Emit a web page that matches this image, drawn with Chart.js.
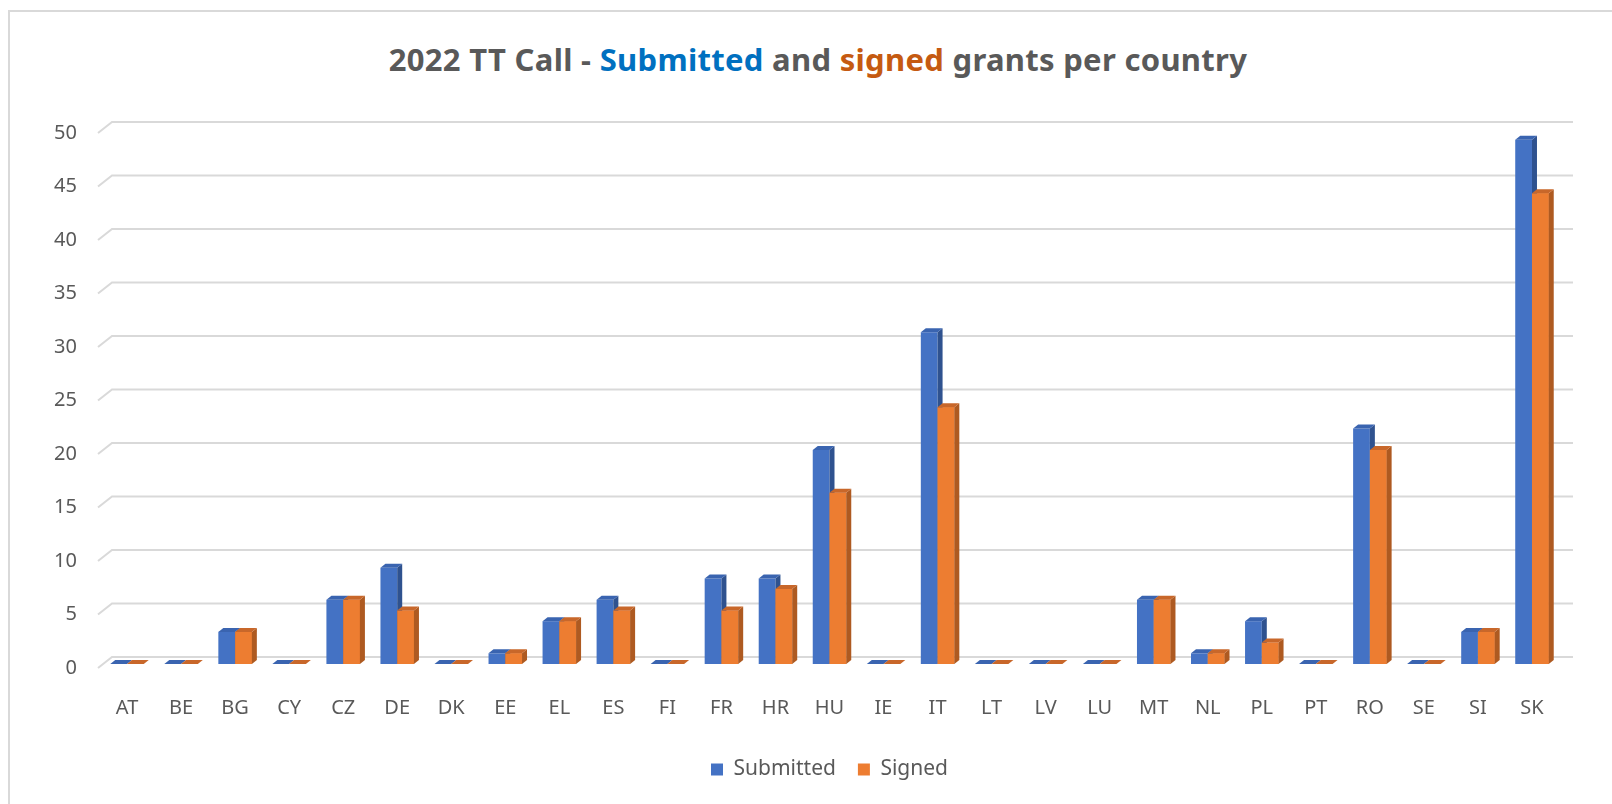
<!DOCTYPE html>
<html>
<head>
<meta charset="utf-8">
<script src="https://cdn.jsdelivr.net/npm/chart.js@4"></script>
<style>
  html, body { margin: 0; padding: 0; background: #fff; }
  #wrap { position: relative; width: 1612px; height: 804px; overflow: hidden; }
  #frame { position: absolute; left: 8px; top: 10px; width: 1700px; height: 900px;
           border-left: 2px solid #d9d9d9; border-top: 2px solid #d9d9d9; }
  #titulo { position: absolute; left: 0; width: 1636px; top: 39px; text-align: center;
            font-family: "Noto Sans", sans-serif; font-weight: bold; font-size: 31px;
            letter-spacing: 0.3px; color: #595959; line-height: 40px; white-space: nowrap; }
  #titulo .azul { color: #0070c0; }
  #titulo .naranja { color: #c55a11; }
  canvas { position: absolute; left: 0; top: 0; }
</style>
</head>
<body>
<div id="wrap">
  <div id="frame"></div>
  <div id="titulo">2022 TT Call - <span class="azul">Submitted</span> and <span class="naranja">signed</span> grants per country</div>
  <canvas id="grafico" width="1612" height="804"></canvas>
</div>
<script>
// Datos
const paises = ["AT", "BE", "BG", "CY", "CZ", "DE", "DK", "EE", "EL", "ES", "FI", "FR", "HR", "HU",
                "IE", "IT", "LT", "LV", "LU", "MT", "NL", "PL", "PT", "RO", "SE", "SI", "SK"];
const presentadas = [0, 0, 3, 0, 6, 9, 0, 1, 4, 6, 0, 8, 8, 20, 0, 31, 0, 0, 0, 6, 1, 4, 0, 22, 0, 3, 49];
const firmadas    = [0, 0, 3, 0, 6, 5, 0, 1, 4, 5, 0, 5, 7, 16, 0, 24, 0, 0, 0, 6, 1, 2, 0, 20, 0, 3, 44];
const ticksY = [0, 5, 10, 15, 20, 25, 30, 35, 40, 45, 50];

const gris = '#595959';
const fuente = '"Noto Sans", sans-serif';

// Caras laterales y superiores para imitar el efecto 3D
const caras = [
    { lado: '#2f528f', arriba: '#3a64b0' },
    { lado: '#ae5a21', arriba: '#c8672a' }
];
const PROF_X = 5, PROF_Y = 4;

// Lineas de fondo (pared trasera) desplazadas respecto al frente
const GRID_DX = 14, GRID_DY = 7, GRID_SLANT = 11;

function dibujarCaras(ctx, meta, c) {
    meta.data.forEach(bar => {
        const x0 = bar.x - bar.width / 2;
        const x1 = bar.x + bar.width / 2;
        const top = Math.min(bar.y, bar.base);
        const base = Math.max(bar.y, bar.base);
        // lado derecho
        ctx.fillStyle = c.lado;
        ctx.beginPath();
        ctx.moveTo(x1, base);
        ctx.lineTo(x1, top);
        ctx.lineTo(x1 + PROF_X, top - PROF_Y);
        ctx.lineTo(x1 + PROF_X, base - PROF_Y);
        ctx.closePath();
        ctx.fill();
        // cara superior
        ctx.fillStyle = c.arriba;
        ctx.beginPath();
        ctx.moveTo(x0, top);
        ctx.lineTo(x1, top);
        ctx.lineTo(x1 + PROF_X, top - PROF_Y);
        ctx.lineTo(x0 + PROF_X, top - PROF_Y);
        ctx.closePath();
        ctx.fill();
    });
}

const efecto3D = {
    id: 'efecto3D',
    beforeDatasetsDraw(chart) {
        const ctx = chart.ctx;
        const y = chart.scales.y;
        const area = chart.chartArea;
        ctx.save();
        ctx.strokeStyle = '#d9d9d9';
        ctx.lineWidth = 2;
        ticksY.forEach(v => {
            const py = y.getPixelForValue(v) - GRID_DY;
            ctx.beginPath();
            ctx.moveTo(area.left - 2, py + GRID_SLANT);
            ctx.lineTo(area.left - 2 + GRID_DX, py);
            ctx.lineTo(area.right + GRID_DX, py);
            ctx.stroke();
        });
        ctx.restore();
    },
    afterDatasetsDraw(chart) {
        const ctx = chart.ctx;
        ctx.save();
        // primero las caras azules, luego se repinta la barra naranja encima
        dibujarCaras(ctx, chart.getDatasetMeta(0), caras[0]);
        const metaNaranja = chart.getDatasetMeta(1);
        metaNaranja.data.forEach(bar => bar.draw(ctx));
        dibujarCaras(ctx, metaNaranja, caras[1]);
        ctx.restore();
    }
};

const ctx = document.getElementById('grafico').getContext('2d');
new Chart(ctx, {
    type: 'bar',
    data: {
        labels: paises,
        datasets: [
            { label: 'Submitted', data: presentadas, backgroundColor: '#4472c4' },
            { label: 'Signed', data: firmadas, backgroundColor: '#ed7d31' }
        ]
    },
    options: {
        responsive: false,
        animation: false,
        layout: { padding: { left: 0, right: 53, top: 129, bottom: 14 } },
        datasets: { bar: { categoryPercentage: 0.62, barPercentage: 1.0 } },
        plugins: {
            title: { display: false },
            tooltip: { enabled: false },
            legend: {
                position: 'bottom',
                fullSize: false,
                labels: {
                    color: gris,
                    font: { family: fuente, size: 21 },
                    boxWidth: 12,
                    boxHeight: 12,
                    padding: 22
                }
            }
        },
        scales: {
            x: {
                grid: { display: false, drawTicks: false },
                border: { display: false },
                ticks: { color: gris, font: { family: fuente, size: 20 }, padding: 32, maxRotation: 0, autoSkip: false },
                afterFit: s => { s.height = 73; }
            },
            y: {
                min: 0,
                max: 50,
                grid: { display: false, drawTicks: false },
                border: { display: false },
                ticks: { color: gris, font: { family: fuente, size: 20 }, stepSize: 5, padding: 23, labelOffset: 4 },
                afterFit: s => { s.width = 100; }
            }
        }
    },
    plugins: [efecto3D]
});
</script>
</body>
</html>
